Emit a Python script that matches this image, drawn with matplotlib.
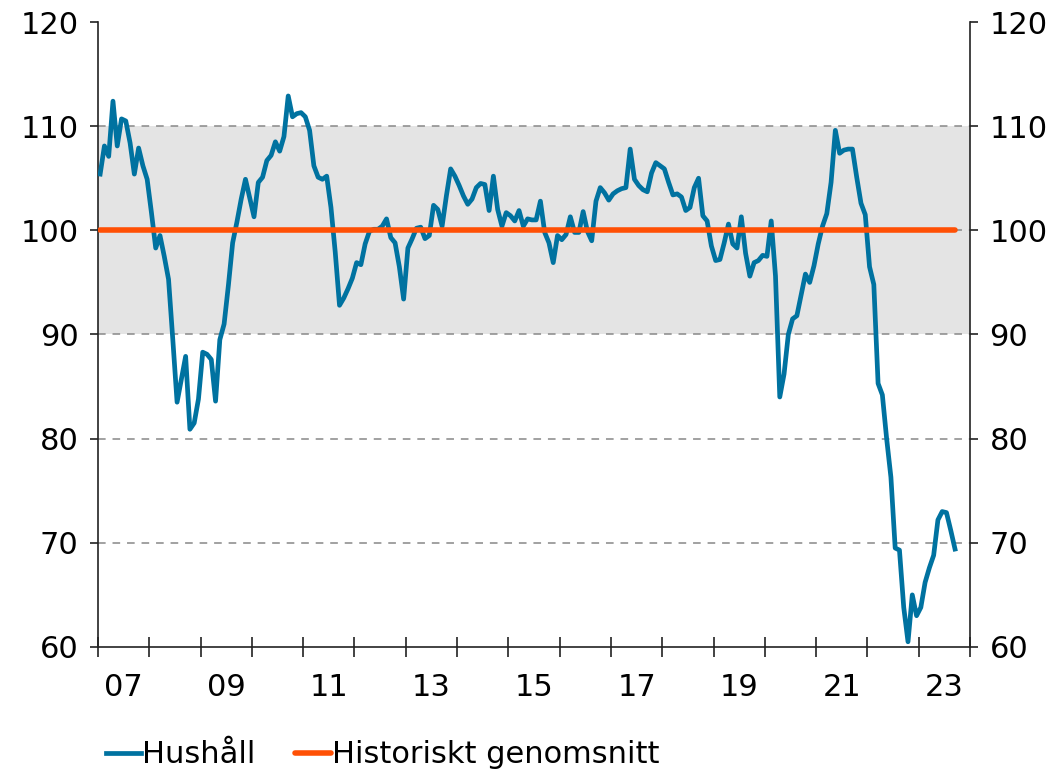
import numpy as np
import matplotlib
matplotlib.use("Agg")
import matplotlib.pyplot as plt

# Monthly index, Jan 2007 - Sep 2023
start_year = 2007
hushall = [
    105.4, 108.1, 107.1, 112.4, 108.1, 110.7, 110.5, 108.4, 105.4, 107.9, 106.2, 104.9,  # 2007
    101.7, 98.3, 99.5, 97.5, 95.3, 89.5, 83.5, 85.7, 87.9, 80.9, 81.5, 83.8,  # 2008
    88.3, 88.1, 87.6, 83.6, 89.5, 91.0, 94.7, 98.8, 100.8, 103.0, 104.9, 103.1,  # 2009
    101.3, 104.6, 105.1, 106.7, 107.2, 108.5, 107.6, 109.0, 112.9, 110.9, 111.2, 111.3,  # 2010
    110.9, 109.6, 106.2, 105.1, 104.9, 105.2, 102.2, 97.9, 92.8, 93.5, 94.4, 95.4,  # 2011
    96.9, 96.7, 98.7, 99.9, 100.1, 100.1, 100.4, 101.1, 99.3, 98.8, 96.5, 93.4,  # 2012
    98.3, 99.2, 100.2, 100.3, 99.2, 99.5, 102.4, 102.0, 100.4, 103.3, 105.9, 105.2,  # 2013
    104.3, 103.3, 102.5, 103.0, 104.1, 104.5, 104.4, 101.9, 105.2, 102.0, 100.4, 101.7,  # 2014
    101.4, 100.9, 101.9, 100.4, 101.1, 101.0, 101.0, 102.8, 99.8, 98.8, 96.9, 99.5,  # 2015
    99.1, 99.6, 101.3, 99.8, 99.8, 101.8, 99.9, 99.0, 102.8, 104.1, 103.6, 102.9,  # 2016
    103.5, 103.8, 104.0, 104.1, 107.8, 104.9, 104.3, 103.9, 103.7, 105.5, 106.5, 106.2,  # 2017
    105.9, 104.6, 103.4, 103.5, 103.2, 101.9, 102.2, 104.1, 105.0, 101.4, 100.9, 98.5,  # 2018
    97.1, 97.2, 98.8, 100.6, 98.7, 98.3, 101.3, 97.8, 95.6, 96.9, 97.1, 97.6,  # 2019
    97.5, 100.9, 95.6, 84.0, 86.2, 90.0, 91.5, 91.8, 93.8, 95.8, 95.0, 96.6,  # 2020
    98.7, 100.4, 101.6, 104.6, 109.6, 107.4, 107.7, 107.8, 107.8, 105.1, 102.6, 101.5,  # 2021
    96.5, 94.8, 85.3, 84.2, 80.0, 76.3, 69.5, 69.3, 63.8, 60.5, 65.0, 63.0,  # 2022
    63.8, 66.2, 67.6, 68.8, 72.2, 73.0, 72.9, 71.2, 69.4,  # 2023
]
historiskt = 100
band = (90, 110)
years = list(range(2007, 2025))
year_labels = ["07", "09", "11", "13", "15", "17", "19", "21", "23"]
yticks = [60, 70, 80, 90, 100, 110, 120]

blue = "#0072a0"
orange = "#ff5005"

x = start_year + (np.arange(len(hushall)) + 0.5) / 12

fig = plt.figure(figsize=(10.63, 7.75), dpi=100)
ax = fig.add_axes([0.0922, 0.1652, 0.8203, 0.8064])

ax.axhspan(band[0], band[1], color="#e4e4e4", zorder=0, lw=0)
for v in [70, 80, 90, 100, 110]:
    ax.axhline(v, color="#888888", lw=1.1, ls=(0, (5, 4.5)), zorder=1)

ax.plot(x, hushall, color=blue, lw=3.4, label="Hushåll", zorder=3,
        solid_joinstyle="round")
ax.plot([x[0], x[-1]], [historiskt, historiskt], color=orange, lw=4.0,
        solid_capstyle="round", label="Historiskt genomsnitt", zorder=4)

ax.set_xlim(2007, 2024)
ax.set_ylim(60, 120)

ax.spines["top"].set_visible(False)
for s in ["left", "right", "bottom"]:
    ax.spines[s].set_color("#222222")
    ax.spines[s].set_linewidth(1.2)

ax.set_yticks(yticks)
ax.tick_params(axis="y", which="both", labelsize=22, length=6, width=1.2,
               direction="out", pad=8, left=True, right=True,
               labelleft=True, labelright=True, colors="#222222",
               labelcolor="black")

ax.set_xticks(years)
ax.set_xticklabels([])
ax.set_xticks([int("20" + s) + 0.5 for s in year_labels], minor=True)
ax.set_xticklabels(year_labels, minor=True)
ax.tick_params(axis="x", which="major", length=14, width=1.2,
               direction="inout", colors="#222222")
ax.tick_params(axis="x", which="minor", length=0, pad=19, labelsize=22)

fig.legend(loc="center", bbox_to_anchor=(0.36, 0.026), ncol=2, frameon=False,
           fontsize=22, handlelength=1.15, handletextpad=0.05,
           columnspacing=1.3)

fig.savefig("out.png", dpi=100)
